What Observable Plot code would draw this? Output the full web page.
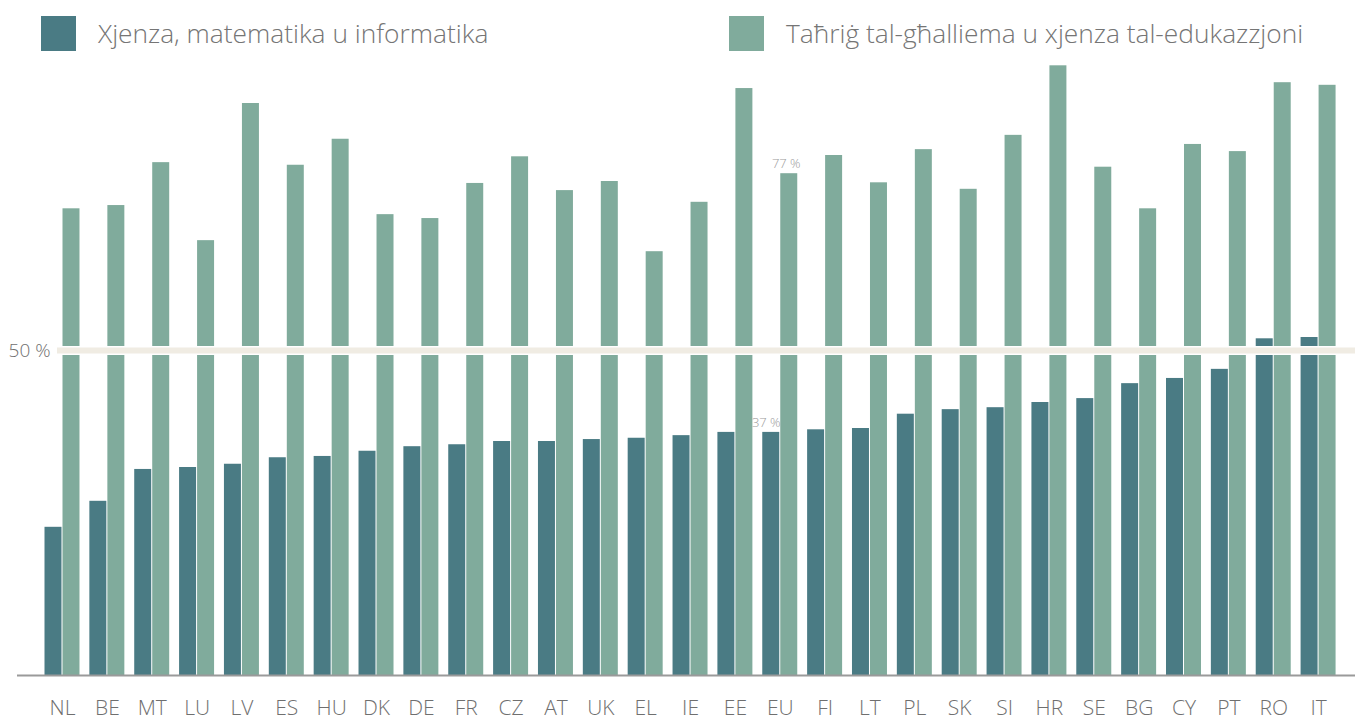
<!DOCTYPE html>
<html>
<head>
<meta charset="utf-8">
<script src="https://cdn.jsdelivr.net/npm/d3@7"></script>
<script src="https://cdn.jsdelivr.net/npm/@observablehq/plot@0.6"></script>
<style>
  html, body { margin: 0; padding: 0; background: #fff; }
  body { width: 1355px; height: 719px; overflow: hidden; font-family: "Open Sans", sans-serif; }
  #legend { position: relative; height: 58px; width: 1355px; }
  .item { position: absolute; top: 16px; height: 35px; display: flex; align-items: center; }
  .sw { width: 35px; height: 35px; margin-right: 22px; }
  .lbl { font-size: 26.3px; font-weight: 300; color: #757575; line-height: 35px; white-space: nowrap; }
</style>
</head>
<body>
<div id="legend"></div>
<div id="chart"></div>
<script>
const countries = ["NL","BE","MT","LU","LV","ES","HU","DK","DE","FR","CZ","AT","UK","EL","IE","EE","EU","FI","LT","PL","SK","SI","HR","SE","BG","CY","PT","RO","IT"];
const science = [22.8,26.8,31.7,32.0,32.5,33.5,33.7,34.5,35.2,35.5,36.0,36.0,36.3,36.5,36.9,37.4,37.4,37.8,38.0,40.2,40.9,41.2,42.0,42.6,44.9,45.7,47.1,51.8,52.0];
const teacher = [71.8,72.3,78.9,66.9,88.0,78.5,82.5,70.9,70.3,75.7,79.8,74.6,76.0,65.2,72.8,90.3,77.2,80.0,75.8,80.9,74.8,83.1,93.8,78.2,71.8,81.7,80.6,91.2,90.8];
const seriesNames = ["Xjenza, matematika u informatika", "Taħriġ tal-għalliema u xjenza tal-edukazzjoni"];
const seriesColors = ["#4a7b84", "#80ab9c"];
const refValue = 50;
const labelCountry = "EU";

// Legend
const legend = document.getElementById("legend");
const legendLeft = [41, 729];
seriesNames.forEach((name, i) => {
  const it = document.createElement("div");
  it.className = "item";
  it.style.left = legendLeft[i] + "px";
  const sw = document.createElement("div");
  sw.className = "sw";
  sw.style.background = seriesColors[i];
  const lb = document.createElement("div");
  lb.className = "lbl";
  lb.textContent = name;
  it.appendChild(sw); it.appendChild(lb);
  legend.appendChild(it);
});

const rows = countries.map((c, i) => ({country: c, science: science[i], teacher: teacher[i]}));
const euRow = rows.filter(d => d.country === labelCountry);
const fmt = d3.format(".0f");

const chart = Plot.plot({
  width: 1355,
  height: 661,
  marginLeft: 17,
  marginRight: 0,
  marginTop: 0,
  marginBottom: 44,
  style: {fontFamily: "'Open Sans', sans-serif", color: "#6f6f6f", background: "#fff", overflow: "visible"},
  x: {domain: countries, range: [30.57, 1349.5], paddingInner: 0.599, paddingOuter: 0.5, round: false, label: null},
  y: {domain: [0, 100], range: [617, -33], label: null},
  marks: [
    Plot.barY(rows, {x: "country", y: "science", fill: seriesColors[0], dx: -9, insetLeft: 0.5, insetRight: 0.5}),
    Plot.barY(rows, {x: "country", y: "teacher", fill: seriesColors[1], dx: 9, insetLeft: 0.5, insetRight: 0.5}),
    Plot.ruleY([refValue], {stroke: "#ffffff", strokeWidth: 9, insetLeft: 40}),
    Plot.ruleY([refValue], {stroke: "#f0ece3", strokeWidth: 6, insetLeft: 40}),
    Plot.ruleY([0], {stroke: "#9a9a9a", strokeWidth: 2}),
    Plot.text(euRow, {x: "country", y: "science", text: d => fmt(d.science) + " %", dx: -14, dy: -10, fontSize: 13, fill: "#9a9a9a", fontWeight: 300}),
    Plot.text(euRow, {x: "country", y: "teacher", text: d => fmt(d.teacher) + " %", dx: 6, dy: -10, fontSize: 13, fill: "#9a9a9a", fontWeight: 300}),
    Plot.axisX({tickSize: 0, tickPadding: 25, fontSize: 21, fontWeight: 300, label: null}),
    Plot.axisY({ticks: [refValue], tickFormat: d => d + " %", tickSize: 0, tickPadding: 0, dx: 33, fontSize: 19, fontWeight: 300, label: null})
  ]
});
document.getElementById("chart").appendChild(chart);
</script>
</body>
</html>
